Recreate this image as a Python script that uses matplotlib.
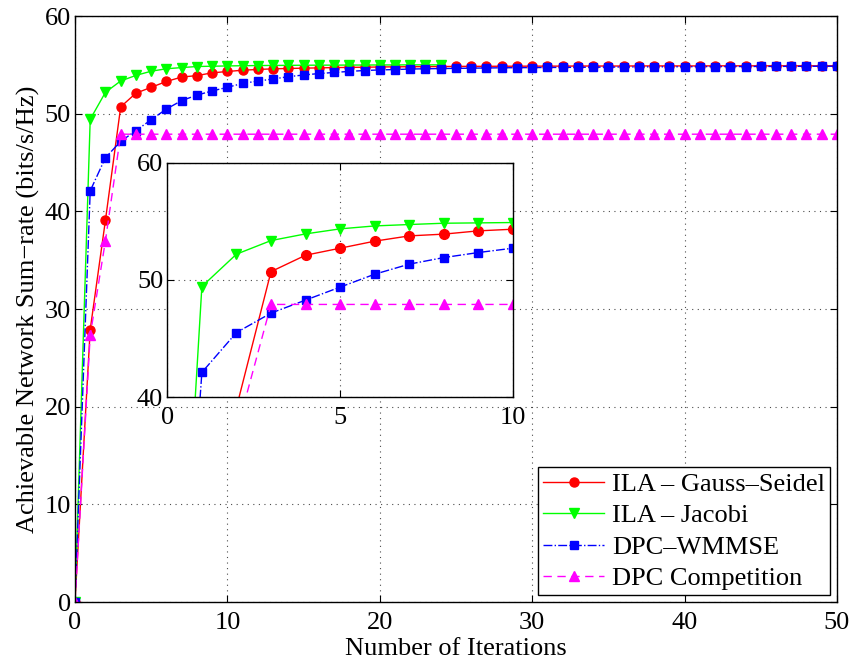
import matplotlib
matplotlib.use("Agg")
import matplotlib.pyplot as plt

# Sum-rate vs. iteration
iters = list(range(51))
gauss_seidel = [0, 27.9, 39.1, 50.7, 52.1, 52.7, 53.3, 53.75, 53.9, 54.18,
                54.32, 54.45, 54.53, 54.59, 54.63, 54.66, 54.69, 54.72, 54.74, 54.76,
                54.78, 54.8, 54.81, 54.82, 54.83, 54.84, 54.85, 54.85, 54.86, 54.86,
                54.87, 54.87, 54.87, 54.88, 54.88, 54.88, 54.88, 54.89, 54.89, 54.89,
                54.89, 54.89, 54.9, 54.9, 54.9, 54.9, 54.9, 54.9, 54.9, 54.9, 54.9]
jacobi_iters = list(range(25))
jacobi = [0, 49.43, 52.19, 53.35, 53.92, 54.35, 54.6, 54.72, 54.83, 54.86,
          54.89, 54.91, 54.93, 54.94, 54.95, 54.96, 54.97, 54.97, 54.98, 54.98,
          54.99, 54.99, 55.0, 55.0, 55.0]
dpc_wmmse = [0, 42.1, 45.5, 47.16, 48.27, 49.38, 50.48, 51.34, 51.9, 52.33,
             52.7, 53.1, 53.34, 53.55, 53.79, 53.96, 54.11, 54.22, 54.33, 54.42,
             54.48, 54.52, 54.57, 54.6, 54.62, 54.64, 54.66, 54.68, 54.7, 54.71,
             54.72, 54.73, 54.74, 54.75, 54.76, 54.77, 54.78, 54.79, 54.8, 54.8,
             54.81, 54.82, 54.82, 54.83, 54.83, 54.84, 54.84, 54.85, 54.85, 54.86, 54.86]
dpc_comp = [0, 27.3, 37.0, 47.9, 47.9, 47.9, 47.9, 47.9, 47.9, 47.9,
            47.9, 47.9, 47.9, 47.9, 47.9, 47.9, 47.9, 47.9, 47.9, 47.9,
            47.9, 47.9, 47.9, 47.9, 47.9, 47.9, 47.9, 47.9, 47.9, 47.9,
            47.9, 47.9, 47.9, 47.9, 47.9, 47.9, 47.9, 47.9, 47.9, 47.9,
            47.9, 47.9, 47.9, 47.9, 47.9, 47.9, 47.9, 47.9, 47.9, 47.9, 47.9]

labels = ["ILA \u2013 Gauss\u2013Seidel", "ILA \u2013 Jacobi", "DPC\u2013WMMSE", "DPC Competition"]

plt.rcParams["font.family"] = ["Liberation Serif", "DejaVu Serif"]
FS = 19


def draw(ax, ms):
    ax.plot(iters, gauss_seidel, "-", color="red", marker="o", ms=ms, lw=1.0, label=labels[0])
    ax.plot(jacobi_iters, jacobi, "-", color="#00ff00", marker="v", ms=ms + 0.5, lw=1.0, label=labels[1])
    ax.plot(iters, dpc_wmmse, "-.", color="blue", marker="s", ms=ms - 0.8, lw=1.0, label=labels[2])
    ax.plot(iters, dpc_comp, "--", color="magenta", marker="^", ms=ms, lw=1.0, label=labels[3],
            dashes=(6, 4))


def style(ax):
    ax.grid(True, linestyle=(0, (1, 4)), color="black", linewidth=0.8, alpha=0.7)
    ax.tick_params(direction="in", top=True, right=True, labelsize=FS, length=5)
    ax.tick_params(axis="x", pad=7)
    ax.tick_params(axis="y", pad=3)
    for s in ax.spines.values():
        s.set_linewidth(1.0)


fig = plt.figure(figsize=(8.51, 6.62), dpi=100)
ax = fig.add_axes([0.0881, 0.0906, 0.8954, 0.8852])
draw(ax, 6.5)
style(ax)
ax.set_xlim(0, 50)
ax.set_ylim(0, 60)
ax.set_xticks([0, 10, 20, 30, 40, 50])
ax.set_yticks([0, 10, 20, 30, 40, 50, 60])
ax.set_xlabel("Number of Iterations", fontsize=FS, labelpad=3)
ax.set_ylabel("Achievable Network Sum\u2212rate (bits/s/Hz)", fontsize=FS, labelpad=3)
leg = ax.legend(loc="lower right", fontsize=FS, frameon=True, fancybox=False,
                edgecolor="black", framealpha=1, handlelength=2.3, borderpad=0.2,
                labelspacing=0.3, handletextpad=0.3, borderaxespad=0.25)
leg.get_frame().set_linewidth(1.0)

inset = fig.add_axes([0.1966, 0.4003, 0.4062, 0.354])
draw(inset, 7)
style(inset)
inset.set_xlim(0, 10)
inset.set_ylim(40, 60)
inset.set_xticks([0, 5, 10])
inset.set_yticks([40, 50, 60])

fig.savefig("out.png", dpi=100)
